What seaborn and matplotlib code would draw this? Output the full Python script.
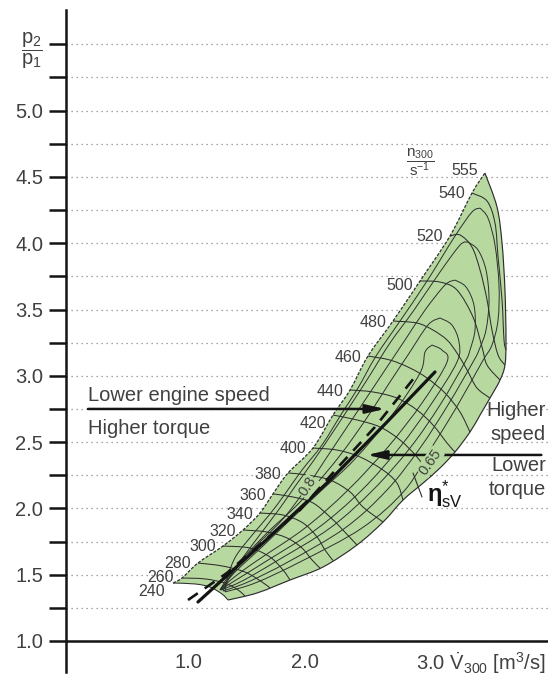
import numpy as np
import pandas as pd
import matplotlib
matplotlib.use("Agg")
import matplotlib.pyplot as plt
from matplotlib.path import Path
from matplotlib.patches import PathPatch
import seaborn as sns

# ---------------- compressor map data: V300 [m^3/s] vs. p2/p1 ----------------
# surge line (left edge of the map), from n = 240 up to the 555 peak
surge_v = [0.872, 0.949, 1.085, 1.299, 1.470, 1.615, 1.726, 1.855, 2.068, 2.239,
           2.385, 2.538, 2.752, 2.983, 3.239, 3.427, 3.538]
surge_pr = [1.437, 1.475, 1.588, 1.716, 1.837, 1.965, 2.109, 2.267, 2.455, 2.704,
            2.893, 3.149, 3.413, 3.715, 4.054, 4.378, 4.529]

# choke edge, from the 555 peak down to the lower corner of the 240 line
choke_v = [3.538, 3.641, 3.684, 3.709, 3.718, 3.709, 3.667, 3.581, 3.496, 3.410,
           3.282, 3.154, 3.009, 2.838, 2.667, 2.444, 2.154, 1.872, 1.590, 1.342]
choke_pr = [4.529, 4.273, 4.001, 3.647, 3.270, 3.081, 2.968, 2.832, 2.704, 2.576,
            2.425, 2.305, 2.191, 2.063, 1.897, 1.724, 1.558, 1.460, 1.362, 1.309]

# speed lines n300 [1/s]
speed_labels = [240, 260, 280, 300, 320, 340, 360, 380, 400, 420, 440, 460, 480,
                500, 520, 540, 555]
n240_v = [0.872, 1.060, 1.188, 1.291, 1.342]
n240_pr = [1.437, 1.430, 1.407, 1.354, 1.309]
n260_v = [0.949, 1.145, 1.316, 1.427, 1.487]
n260_pr = [1.475, 1.468, 1.437, 1.385, 1.339]
n280_v = [1.085, 1.291, 1.487, 1.632, 1.701]
n280_pr = [1.588, 1.566, 1.520, 1.445, 1.400]
n300_v = [1.299, 1.530, 1.701, 1.812, 1.872]
n300_pr = [1.716, 1.701, 1.633, 1.535, 1.460]
n320_v = [1.470, 1.675, 1.846, 1.974, 2.060, 2.128]
n320_pr = [1.837, 1.822, 1.777, 1.701, 1.611, 1.550]
n340_v = [1.615, 1.812, 1.983, 2.103, 2.171, 2.239]
n340_pr = [1.965, 1.950, 1.890, 1.784, 1.686, 1.607]
n360_v = [1.726, 1.897, 2.068, 2.214, 2.299, 2.444]
n360_pr = [2.109, 2.086, 2.041, 1.935, 1.860, 1.724]
n380_v = [1.855, 2.017, 2.214, 2.385, 2.496, 2.667]
n380_pr = [2.267, 2.252, 2.214, 2.124, 2.010, 1.897]
n400_v = [2.068, 2.274, 2.470, 2.667, 2.786, 2.838]
n400_pr = [2.455, 2.440, 2.388, 2.289, 2.191, 2.063]
n420_v = [2.239, 2.444, 2.641, 2.812, 2.957, 3.077]
n420_pr = [2.704, 2.667, 2.614, 2.516, 2.388, 2.244]
n440_v = [2.385, 2.581, 2.786, 2.957, 3.094, 3.214, 3.282]
n440_pr = [2.893, 2.878, 2.832, 2.742, 2.629, 2.493, 2.425]
n460_v = [2.538, 2.726, 2.897, 3.043, 3.197, 3.325, 3.410]
n460_pr = [3.149, 3.119, 3.059, 2.983, 2.870, 2.727, 2.576]
n480_v = [2.752, 2.957, 3.094, 3.214, 3.299, 3.385, 3.470, 3.581]
n480_pr = [3.413, 3.398, 3.345, 3.270, 3.172, 3.044, 2.908, 2.832]
n500_v = [2.983, 3.154, 3.299, 3.436, 3.513, 3.556, 3.667]
n500_pr = [3.715, 3.707, 3.647, 3.443, 3.217, 3.081, 2.968]
n520_v = [3.239, 3.325, 3.427, 3.496, 3.556, 3.598, 3.650, 3.709]
n520_pr = [4.054, 4.062, 3.971, 3.798, 3.572, 3.345, 3.157, 3.081]
n540_v = [3.427, 3.556, 3.624, 3.650, 3.684, 3.701, 3.718]
n540_pr = [4.378, 4.318, 4.152, 3.896, 3.572, 3.270, 3.194]

# efficiency contours: each one has a left (surge-side) and right (choke-side) branch
eta1_left_v = [3.496, 3.427, 3.282, 3.043, 2.812, 2.607, 2.453, 2.316, 2.145, 1.974,
               1.829, 1.701, 1.556, 1.410, 1.342, 1.316]
eta1_left_pr = [4.265, 4.235, 4.054, 3.715, 3.413, 3.149, 2.908, 2.719, 2.478, 2.289,
                2.109, 1.958, 1.807, 1.641, 1.490, 1.370]
eta1_right_v = [3.496, 3.564, 3.624, 3.658, 3.650, 3.598, 3.513, 3.291, 3.085, 2.855,
                2.487, 1.957, 1.573, 1.316]
eta1_right_pr = [4.265, 4.190, 3.986, 3.685, 3.421, 3.232, 3.104, 2.757, 2.463, 2.139,
                 1.852, 1.596, 1.437, 1.370]
eta2_left_v = [3.393, 3.325, 3.154, 2.932, 2.726, 2.556, 2.402, 2.239, 2.077, 1.923,
               1.786, 1.632, 1.479, 1.359, 1.299]
eta2_left_pr = [4.009, 3.986, 3.783, 3.496, 3.247, 3.006, 2.795, 2.576, 2.365, 2.176,
                2.003, 1.822, 1.641, 1.490, 1.377]
eta2_right_v = [3.393, 3.479, 3.547, 3.573, 3.547, 3.487, 3.436, 3.222, 2.983, 2.701,
                2.342, 1.855, 1.513, 1.299]
eta2_right_pr = [4.009, 3.949, 3.798, 3.572, 3.345, 3.194, 3.104, 2.780, 2.455, 2.139,
                 1.852, 1.596, 1.445, 1.377]
eta3_left_v = [3.282, 3.197, 3.026, 2.855, 2.684, 2.513, 2.342, 2.171, 2.000, 1.803,
               1.547, 1.359, 1.282]
eta3_left_pr = [3.722, 3.685, 3.496, 3.270, 3.044, 2.817, 2.591, 2.365, 2.139, 1.912,
                1.686, 1.483, 1.385]
eta3_right_v = [3.282, 3.376, 3.444, 3.453, 3.410, 3.368, 3.154, 2.897, 2.581, 2.214,
                1.744, 1.462, 1.282]
eta3_right_pr = [3.722, 3.670, 3.534, 3.345, 3.194, 3.104, 2.780, 2.455, 2.139, 1.852,
                 1.596, 1.452, 1.385]
eta4_left_v = [3.154, 3.051, 2.880, 2.726, 2.573, 2.427, 2.282, 2.111, 1.915, 1.701,
               1.496, 1.342, 1.274]
eta4_left_pr = [3.436, 3.383, 3.157, 2.953, 2.742, 2.553, 2.380, 2.199, 2.010, 1.837,
                1.649, 1.483, 1.385]
eta4_right_v = [3.154, 3.256, 3.316, 3.299, 3.085, 2.812, 2.487, 2.111, 1.658, 1.410, 1.274]
eta4_right_pr = [3.436, 3.383, 3.255, 3.104, 2.795, 2.463, 2.139, 1.852, 1.596, 1.460, 1.385]
eta5_left_v = [3.085, 3.026, 2.983, 2.744, 2.419, 2.145, 1.872, 1.632, 1.402, 1.274]
eta5_left_pr = [3.232, 3.179, 3.021, 2.704, 2.365, 2.139, 1.912, 1.709, 1.520, 1.385]
eta5_right_v = [3.085, 3.171, 3.214, 3.000, 2.709, 2.368, 2.000, 1.573, 1.376, 1.274]
eta5_right_pr = [3.232, 3.194, 3.104, 2.795, 2.463, 2.139, 1.852, 1.596, 1.468, 1.385]

# operating lines of the engine
op_solid_v = [1.085, 1.658, 2.214, 2.684, 3.111]
op_solid_pr = [1.294, 1.754, 2.214, 2.636, 3.029]
op_dashed_v = [1.000, 1.333, 1.590, 1.957, 2.299, 2.598, 2.966]
op_dashed_pr = [1.309, 1.513, 1.709, 1.988, 2.327, 2.614, 3.021]

y_ticks = [1.0, 1.25, 1.5, 1.75, 2.0, 2.25, 2.5, 2.75, 3.0, 3.25, 3.5, 3.75,
           4.0, 4.25, 4.5, 4.75, 5.0, 5.25, 5.5]
x_tick_values = [1.0, 2.0]
x_tick_labels = ["1.0", "2.0"]
x_axis_title = r"3.0 $\dot{\mathrm{V}}_{300}$ [m$^3$/s]"

# ---------------- style ----------------
sns.set_theme(style="white")
plt.rcParams["font.family"] = ["Liberation Sans", "DejaVu Sans"]
plt.rcParams["mathtext.fontset"] = "custom"
plt.rcParams["mathtext.rm"] = "Liberation Sans"
plt.rcParams["mathtext.it"] = "Liberation Sans:italic"
plt.rcParams["mathtext.bf"] = "Liberation Sans:bold"

TXT = "#404040"
INK = "#141414"
MESH = "#2e2e2e"
GREEN = "#b7d9a0"


def smooth_path(xs, ys):
    """Catmull-Rom curve through the given points, as cubic Bezier segments."""
    pts = np.column_stack([xs, ys]).astype(float)
    verts, codes = [pts[0]], [Path.MOVETO]
    for i in range(len(pts) - 1):
        p0 = pts[max(i - 1, 0)]
        p1, p2 = pts[i], pts[i + 1]
        p3 = pts[min(i + 2, len(pts) - 1)]
        verts += [p1 + (p2 - p0) / 6.0, p2 - (p3 - p1) / 6.0, p2]
        codes += [Path.CURVE4] * 3
    return verts, codes


def draw_curve(ax, xs, ys, **kw):
    verts, codes = smooth_path(xs, ys)
    ax.add_patch(PathPatch(Path(verts, codes), fill=False, **kw))


fig = plt.figure(figsize=(5.48, 6.82), dpi=100)
ax = fig.add_axes([66 / 548, 10 / 682, 482 / 548, 662 / 682])
ax.set_xlim(-0.043, 4.077)
ax.set_ylim(0.766, 5.759)

# map area
sv, sc = smooth_path(surge_v, surge_pr)
cv, cc = smooth_path(choke_v, choke_pr)
cc[0] = Path.LINETO
bv, bc = smooth_path(n240_v[::-1], n240_pr[::-1])
bc[0] = Path.LINETO
area = Path(sv + cv + bv + [bv[-1]], sc + cc + bc + [Path.CLOSEPOLY])
ax.add_patch(PathPatch(area, facecolor=GREEN, edgecolor="none", zorder=1))

# efficiency contours
eta_branches = [
    (eta1_left_v, eta1_left_pr), (eta1_right_v, eta1_right_pr),
    (eta2_left_v, eta2_left_pr), (eta2_right_v, eta2_right_pr),
    (eta3_left_v, eta3_left_pr), (eta3_right_v, eta3_right_pr),
    (eta4_left_v, eta4_left_pr), (eta4_right_v, eta4_right_pr),
    (eta5_left_v, eta5_left_pr), (eta5_right_v, eta5_right_pr),
]
for xs, ys in eta_branches:
    draw_curve(ax, xs, ys, edgecolor=MESH, lw=0.7, zorder=2)

# speed lines
speed_lines = [
    (n240_v, n240_pr), (n260_v, n260_pr), (n280_v, n280_pr), (n300_v, n300_pr),
    (n320_v, n320_pr), (n340_v, n340_pr), (n360_v, n360_pr), (n380_v, n380_pr),
    (n400_v, n400_pr), (n420_v, n420_pr), (n440_v, n440_pr), (n460_v, n460_pr),
    (n480_v, n480_pr), (n500_v, n500_pr), (n520_v, n520_pr), (n540_v, n540_pr),
]
for xs, ys in speed_lines:
    draw_curve(ax, xs, ys, edgecolor=MESH, lw=0.75, zorder=2)

# map edges
draw_curve(ax, choke_v, choke_pr, edgecolor=MESH, lw=0.85, zorder=2)
draw_curve(ax, surge_v, surge_pr, edgecolor=MESH, lw=0.9, linestyle=(0, (2.5, 1.2)), zorder=2)

# speed labels sit just left of each line's surge point
label_anchor_v = [l[0][0] for l in speed_lines] + [surge_v[-1]]
label_anchor_pr = [l[1][0] for l in speed_lines] + [surge_pr[-1]]
label_dx = [-6, -6, -5, -5, -5, -5, -5, -5, -5, -5, -5, -5, -5, -5, -5, -5, -5]
label_dy = [-6, 0, 0, 0, -1, -1, -1, -1, 0, -6, -1, -1, -1, -3, 0, 0, 2]
for n, xv, yv, dx, dy in zip(speed_labels, label_anchor_v, label_anchor_pr, label_dx, label_dy):
    ax.annotate(str(n), (xv, yv), xytext=(dx, dy), textcoords="offset points",
                ha="right", va="center", fontsize=11.5, color=TXT, zorder=6)
ax.text(2.985, 4.615, r"$\dfrac{\mathrm{n}_{300}}{\mathrm{s}^{-1}}$", ha="center",
        va="center", fontsize=11, color=TXT)

# efficiency labels, set on a patch of map colour so they stay legible
lab_box = dict(boxstyle="square,pad=0.05", facecolor=GREEN, edgecolor="none")
ax.text(2.02, 2.165, "0.8", rotation=57, ha="center", va="center", fontsize=10.5,
        color=TXT, zorder=6, bbox=lab_box)
ax.text(3.07, 2.350, "0.65", rotation=55, ha="center", va="center", fontsize=10.5,
        color=TXT, zorder=6, bbox=lab_box)
ax.plot([2.923, 3.000], [2.267, 2.086], color=MESH, lw=0.8, zorder=3)
ax.text(3.045, 2.105, r"$\mathbf{\eta}^{*}_{\mathrm{sV}}$", ha="left", va="center",
        fontsize=17, color=INK)

# operating lines
op_solid = pd.DataFrame({"V": op_solid_v, "pr": op_solid_pr})
op_dashed = pd.DataFrame({"V": op_dashed_v, "pr": op_dashed_pr})
sns.lineplot(data=op_solid, x="V", y="pr", color=INK, lw=2.3, sort=False,
             estimator=None, ax=ax, zorder=4)
sns.lineplot(data=op_dashed, x="V", y="pr", color=INK, lw=1.9, sort=False,
             estimator=None, ax=ax, zorder=4, linestyle=(0, (4.5, 3.2)))

# arrows and annotations
arrow_kw = dict(arrowstyle="-|>,head_length=0.95,head_width=0.22", color=INK, lw=1.8,
                mutation_scale=12, shrinkA=0, shrinkB=0)
ax.annotate("", xy=(2.684, 2.75), xytext=(0.145, 2.75), arrowprops=arrow_kw, zorder=5)
ax.annotate("", xy=(2.53, 2.403), xytext=(4.02, 2.403), arrowprops=arrow_kw, zorder=5)
ax.text(0.145, 2.855, "Lower engine speed", ha="left", va="center", fontsize=14.5, color=TXT)
ax.text(0.145, 2.606, "Higher torque", ha="left", va="center", fontsize=14.5, color=TXT)
for txt, yv in [("Higher", 2.735), ("speed", 2.554), ("Lower", 2.320), ("torque", 2.139)]:
    ax.text(4.06, yv, txt, ha="right", va="center", fontsize=14.5, color=TXT)

# axes
ax.axhline(1.0, color=INK, lw=1.8, zorder=3)
ax.set_yticks(y_ticks)
ylabels = []
for v in y_ticks:
    if v == 5.5:
        ylabels.append(r"$\dfrac{\mathrm{p}_2}{\mathrm{p}_1}$")
    elif abs(v * 2 - round(v * 2)) < 1e-9:
        ylabels.append(f"{v:.1f}")
    else:
        ylabels.append("")
ax.set_yticklabels(ylabels)
ax.tick_params(axis="y", direction="out", length=12.5, width=1.8, color=INK, pad=4,
               labelsize=14.5, labelcolor=TXT, left=True)
ax.set_xticks([])
for xv, lab in zip(x_tick_values, x_tick_labels):
    ax.text(xv, 0.835, lab, ha="center", va="center", fontsize=14.5, color=TXT)
ax.text(4.06, 0.835, x_axis_title, ha="right", va="center", fontsize=14.5, color=TXT)
ax.grid(True, axis="y", color="#8a8a8a", lw=0.9, linestyle=(0, (1, 3)))
ax.set_axisbelow(True)
for side in ["top", "right", "bottom"]:
    ax.spines[side].set_visible(False)
ax.spines["left"].set_color(INK)
ax.spines["left"].set_linewidth(1.8)
ax.set_xlabel("")
ax.set_ylabel("")

fig.savefig("out.png", dpi=100)
